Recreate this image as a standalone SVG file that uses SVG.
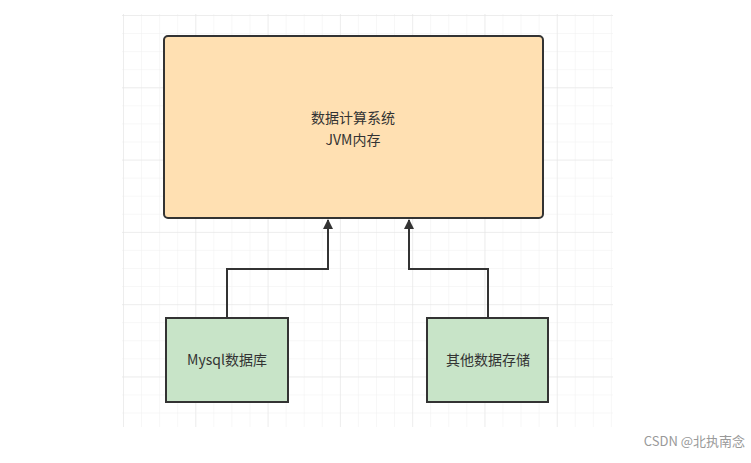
<svg xmlns="http://www.w3.org/2000/svg" width="751" height="463" viewBox="0 0 751 463">
<defs>
<pattern id="minor" x="123" y="15" width="18.07" height="18.07" patternUnits="userSpaceOnUse"><path d="M0 0V18.07M0 0H18.07" stroke="#f0f0f0" stroke-width="1" fill="none"/></pattern>
<pattern id="major" x="123" y="15" width="72.3" height="72.3" patternUnits="userSpaceOnUse"><path d="M0 0V72.3M0 0H72.3" stroke="#e4e4e4" stroke-width="1" fill="none"/></pattern>
<marker id="arr" viewBox="0 0 10 10" refX="9" refY="5" markerWidth="10" markerHeight="10" markerUnits="userSpaceOnUse" orient="auto"><path d="M0 0L10 5L0 10Z" fill="#333"/></marker>
</defs>
<style>
.t{font-family:"Noto Sans CJK SC","Liberation Sans",sans-serif;font-size:14px;fill:#333;text-anchor:middle}
.b{stroke:#333;stroke-width:2}
.c{fill:none;stroke:#333;stroke-width:2}
</style>
<rect width="751" height="463" fill="#fff"/>
<rect x="122" y="14" width="491" height="413" fill="url(#minor)"/>
<rect x="122" y="14" width="491" height="413" fill="url(#major)"/>
<g id="connectors">
<path class="c" d="M227 318V269H328V220" marker-end="url(#arr)"/>
<path class="c" d="M488 318V269H409V220" marker-end="url(#arr)"/>
</g>
<g id="main"><rect class="b" x="164" y="36" width="379" height="182" rx="4" fill="#ffe0b2"/>
<text class="t" x="353" y="123">数据计算系统</text><text class="t" x="353" y="145">JVM内存</text></g>
<g id="mysql"><rect class="b" x="166" y="318" width="122" height="84" fill="#c8e4c8"/><text class="t" x="227" y="365">Mysql数据库</text></g>
<g id="other"><rect class="b" x="427" y="318" width="121" height="84" fill="#c8e4c8"/><text class="t" x="488" y="365">其他数据存储</text></g>
<text x="745" y="446" style="font-family:'Noto Sans CJK SC','Liberation Sans',sans-serif;font-size:13px;fill:#999;text-anchor:end">CSDN @北执南念</text>
</svg>
